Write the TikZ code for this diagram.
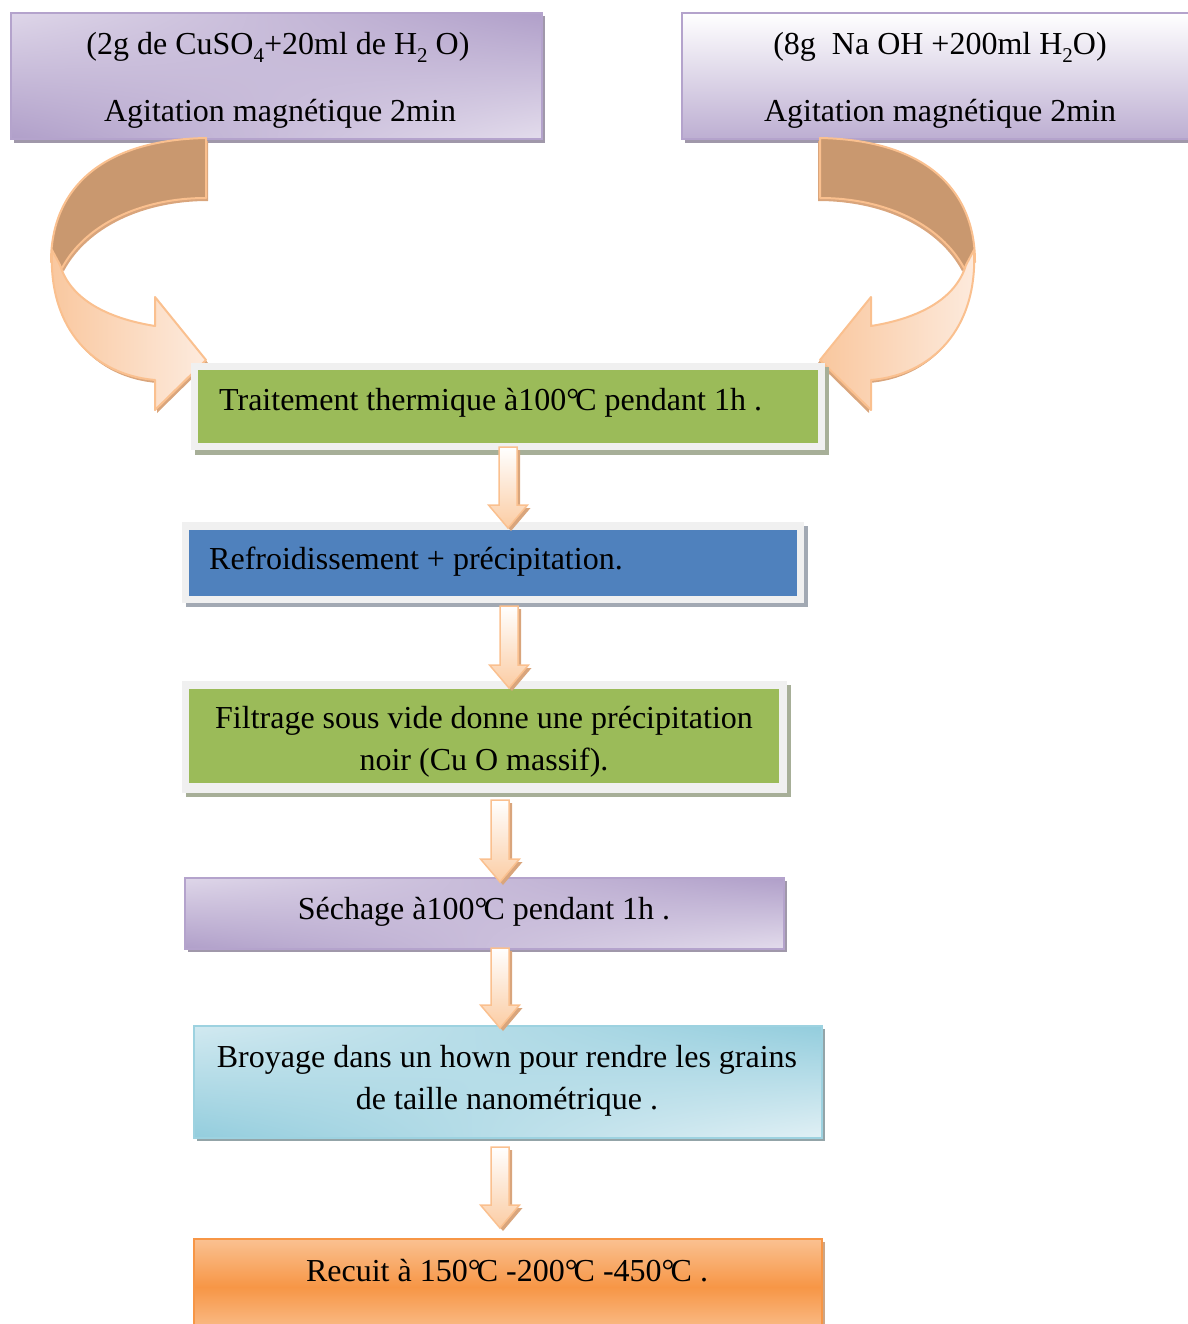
\documentclass[tikz,border=0pt]{standalone}
\usepackage{fontspec}
\setmainfont{Liberation Serif}
\usetikzlibrary{shadings}
\definecolor{pborder}{HTML}{B4A3CC}
\definecolor{pshadow}{HTML}{A098AA}
\definecolor{plight}{HTML}{E3DCEC}
\definecolor{pdark}{HTML}{B09FC9}
\definecolor{gfill}{HTML}{9BBB59}
\definecolor{bfill}{HTML}{4F81BD}
\definecolor{frame}{HTML}{F0F0F0}
\definecolor{gshadow}{HTML}{A7AF98}
\definecolor{bshadow}{HTML}{A2A9B3}
\definecolor{cblight}{HTML}{E1F0F5}
\definecolor{cbdark}{HTML}{93CDDD}
\definecolor{cbborder}{HTML}{9DD2E0}
\definecolor{cbshadow}{HTML}{93A4A8}
\definecolor{orange}{HTML}{F79646}
\definecolor{olight}{HTML}{FAC191}
\definecolor{aline}{HTML}{FAC08F}
\definecolor{afill}{HTML}{FBCCA3}
\definecolor{ashadow}{HTML}{D9A57C}
\definecolor{brown}{HTML}{C9986F}
\definecolor{peachdark}{HTML}{F9C79E}
\definecolor{peachlight}{HTML}{FDEBDE}
\newcommand\chsub[1]{\raisebox{-0.25em}{\fontsize{21}{21}\selectfont #1}}
\newcommand\dgc{°\kern-0.12em C}
\newcommand\flowarrow[3]{%
  \begin{scope}[shift={(3,3)}]
  \fill[ashadow] ({#1-9},#2) -- ({#1+9},#2) -- ({#1+9},{#3-23}) -- ({#1+19.5},{#3-23}) -- (#1,#3) -- ({#1-19.5},{#3-23}) -- ({#1-9},{#3-23}) -- cycle;
  \end{scope}
  \path[draw=aline, line width=1.5pt, top color=white, bottom color=afill] ({#1-9},#2) -- ({#1+9},#2) -- ({#1+9},{#3-23}) -- ({#1+19.5},{#3-23}) -- (#1,#3) -- ({#1-19.5},{#3-23}) -- ({#1-9},{#3-23}) -- cycle;}
\tikzset{
  txt/.style={font=\fontsize{32}{42}\selectfont, inner sep=0pt, align=center},
  rawbox/.style={rectangle, inner sep=0pt, anchor=north west},
  purplebox/.style={rawbox, draw=pborder, line width=2pt, upper left=plight!90!pdark, upper right=pdark, lower left=pdark, lower right=plight},
}
\begin{document}
\begin{tikzpicture}[x=1pt,y=-1pt]
\useasboundingbox (0,0) rectangle (1187,1324);
% ---------- top boxes ----------
\fill[pshadow] (14,16) rectangle (545,143);
\node[purplebox, minimum width=531pt, minimum height=126pt] (b1) at (10,12) {};
\fill[pshadow] (685,16) rectangle (1200,143);
\node[rawbox, draw=pborder, line width=2pt, top color=white, bottom color=pdark!75!plight, minimum width=520pt, minimum height=126pt] (b2) at (681,12) {};
\node[txt, anchor=base] (t1a) at (278,55) {(2g de CuSO\chsub{4}+20ml de H\chsub{2} O)};
\node[txt, anchor=base] (t1b) at (280,122) {Agitation magnétique 2min};
\node[txt, anchor=base] (t2a) at (940,55) {(8g\ \ Na OH +200ml H\chsub{2}O)};
\node[txt, anchor=base] (t2b) at (940,122) {Agitation magnétique 2min};
% ---------- curved arrows ----------
\foreach \side in {0,1}{
\begin{scope}[xshift={\side*1026pt}, xscale={1-2*\side}]
  \begin{scope}[shift={(2,3)}]
    \fill[ashadow] (206,138) .. controls (100,140) and (51,190) .. (51,262) -- (62,268) .. controls (85,225) and (140,198) .. (206,198) -- cycle;
    \fill[ashadow] (52,250) .. controls (48,330) and (95,375) .. (155,380) -- (155,410) -- (206,360) -- (155,297) -- (155,326) .. controls (105,318) and (70,298) .. (60,265) -- cycle;
  \end{scope}
  \path[draw=aline, line width=2pt, fill=brown, line join=round] (206,138) .. controls (100,140) and (51,190) .. (51,262) -- (62,268) .. controls (85,225) and (140,198) .. (206,198) -- cycle;
  \path[draw=aline, line width=2pt, left color=peachdark, right color=peachlight, line join=round] (52,250) .. controls (48,330) and (95,375) .. (155,380) -- (155,410) -- (206,360) -- (155,297) -- (155,326) .. controls (105,318) and (70,298) .. (60,265) -- cycle;
\end{scope}
}
% ---------- box 3 ----------
\fill[gshadow] (195,367) rectangle (829,455);
\node[rawbox, fill=frame, minimum width=634pt, minimum height=87pt] (f3) at (191,363) {};
\node[rawbox, fill=gfill, minimum width=620pt, minimum height=73pt] (b3) at (198,370) {};
\node[txt, anchor=base west] (t3) at (219,410) {Traitement thermique à100\dgc\ pendant 1h .};
% ---------- box 4 ----------
\fill[bshadow] (186,526) rectangle (808,607);
\node[rawbox, fill=frame, minimum width=622pt, minimum height=81pt] (f4) at (182,522) {};
\node[rawbox, fill=bfill, minimum width=608pt, minimum height=66pt] (b4) at (189,530) {};
\node[txt, anchor=base west] (t4) at (209,569) {Refroidissement + précipitation.};
% ---------- box 5 ----------
\fill[gshadow] (186,685) rectangle (791,797);
\node[rawbox, fill=frame, minimum width=605pt, minimum height=112pt] (f5) at (182,681) {};
\node[rawbox, fill=gfill, minimum width=590pt, minimum height=94pt] (b5) at (189,689) {};
\node[txt, anchor=base] (t5a) at (484,728) {Filtrage sous vide donne une précipitation};
\node[txt, anchor=base] (t5b) at (484,770) {noir (Cu O massif).};
% ---------- box 6 ----------
\fill[pshadow] (188,881) rectangle (787,952);
\node[purplebox, minimum width=599pt, minimum height=71pt] (b6) at (184,877) {};
\node[txt, anchor=base] (t6) at (484,919) {Séchage à100\dgc\ pendant 1h .};
% ---------- box 7 ----------
\fill[cbshadow] (197,1029) rectangle (825,1141);
\node[rawbox, draw=cbborder, line width=2pt, upper left=cblight!80!cbdark, upper right=cbdark, lower left=cbdark, lower right=cblight, minimum width=628pt, minimum height=112pt] (b7) at (193,1025) {};
\node[txt, anchor=base] (t7a) at (507,1067) {Broyage dans un hown pour rendre les grains};
\node[txt, anchor=base] (t7b) at (507,1109) {de taille nanométrique .};
% ---------- box 8 ----------
\fill[orange!70!black!60] (197,1242) rectangle (825,1340);
\node[rawbox, draw=orange, line width=2pt, top color=olight, bottom color=olight, middle color=orange, minimum width=628pt, minimum height=96pt] (b8) at (193,1238) {};
\node[txt, anchor=base] (t8) at (507,1281) {Recuit à 150\dgc\ -200\dgc\ -450\dgc\ .};
% ---------- straight arrows ----------
\flowarrow{508}{447}{528}
\flowarrow{509}{606}{688}
\flowarrow{500}{800}{882}
\flowarrow{500}{948}{1028}
\flowarrow{500}{1147}{1228}
\end{tikzpicture}
\end{document}
